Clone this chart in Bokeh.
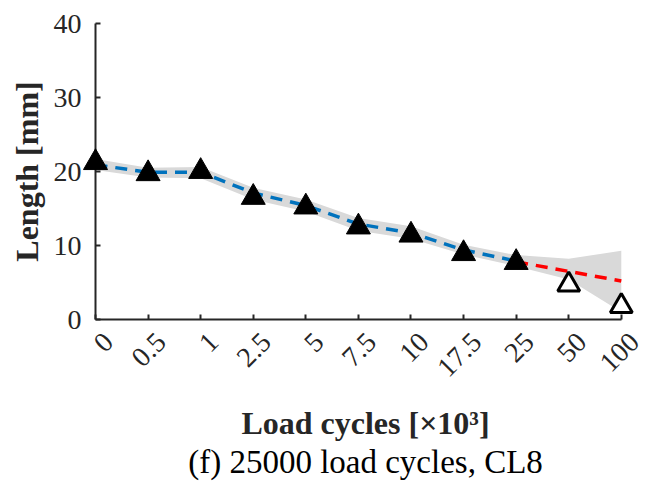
import math
from bokeh.plotting import figure
from bokeh.models import Range1d, FixedTicker, LinearAxis, CustomJSTickFormatter
from bokeh.embed import file_html
from bokeh.resources import INLINE

# ---- data ----
cycles = ["0", "0.5", "1", "2.5", "5", "7.5", "10", "17.5", "25", "50", "100"]
tested_len = [21.2, 19.7, 20.0, 16.5, 15.2, 12.5, 11.4, 8.9, 7.7]      # filled triangles
extrap_len = [4.7, 1.8]                                                  # open triangles (50, 100)
mean_fit = [20.9, 19.9, 19.9, 17.1, 15.4, 12.9, 11.7, 9.4, 7.9]         # blue dashed
pred_fit = [7.8, 6.5, 5.2]                                               # red dashed (25, 50, 100)
band_upper = [21.7, 20.5, 20.6, 17.8, 16.2, 13.7, 12.6, 10.1, 8.7, 8.2, 9.3]
band_lower = [20.2, 19.2, 19.1, 16.2, 14.6, 12.0, 10.9, 8.8, 7.2, 5.4, 1.0]
y_ticks = [0, 10, 20, 30, 40]

xs = list(range(len(cycles)))
n_test = len(tested_len)
x_last = len(cycles) - 1

FONT = "Liberation Serif"
AX = "#262626"
LABEL_SHIFT = 0.25   # rotated tick labels sit a little right of their ticks (MATLAB style)
X_PAD = 0.27         # room on the right for the shifted last label

p = figure(width=652, height=487, output_backend="svg", toolbar_location=None,
           x_range=Range1d(0, x_last + X_PAD), y_range=Range1d(0, 40),
           min_border_left=95, min_border_right=17, min_border_top=23, min_border_bottom=168)
p.outline_line_color = None
p.grid.visible = False
p.background_fill_color = "white"
p.border_fill_color = "white"

p.varea(x=xs, y1=band_lower, y2=band_upper, fill_color="#d9d9d9")
p.line(xs[:n_test], mean_fit, line_color="#0072BD", line_width=3.5, line_dash="12 8")
p.line(xs[n_test - 1:], pred_fit, line_color="#FF0000", line_width=3.5, line_dash="12 8")
r1 = p.scatter(xs[:n_test], tested_len, marker="triangle", size=24,
               fill_color="black", line_color="black", line_width=1)
r2 = p.scatter(xs[n_test:], extrap_len, marker="triangle", size=22,
               fill_color="white", line_color="black", line_width=3)
# draw markers above the axes so the ones on the frame edge are not cut off
r1.level = "overlay"
r2.level = "overlay"

def style_axis(ax):
    ax.axis_line_color = AX
    ax.axis_line_width = 2
    ax.major_tick_line_color = AX
    ax.major_tick_line_width = 2
    ax.major_tick_in = 5
    ax.major_tick_out = 0
    ax.minor_tick_line_color = None
    ax.major_label_text_font = FONT
    ax.major_label_text_font_size = "28px"
    ax.major_label_text_color = AX
    ax.axis_label_text_font = FONT
    ax.axis_label_text_font_size = "32px"
    ax.axis_label_text_font_style = "bold"
    ax.axis_label_text_color = AX

def bare_axis(ax):
    style_axis(ax)
    ax.axis_line_color = None
    ax.major_tick_line_color = None

# x axis: line and ticks only (spanning the categories)
xa = p.xaxis[0]
style_axis(xa)
xa.bounds = (0, x_last)
xa.ticker = FixedTicker(ticks=xs)
xa.major_label_text_color = None
xa.major_label_text_font_size = "1px"
xa.major_label_standoff = 0

# x tick labels on a second, line-less axis
xl = LinearAxis()
bare_axis(xl)
xl.ticker = FixedTicker(ticks=[x + LABEL_SHIFT for x in xs])
xl.formatter = CustomJSTickFormatter(args=dict(labels=cycles, shift=LABEL_SHIFT),
                                     code="return labels[Math.round(tick - shift)]")
xl.major_label_orientation = math.pi / 4
xl.major_label_standoff = 18
p.add_layout(xl, "below")

# x axis title
xt = LinearAxis(bounds=(0, x_last))
bare_axis(xt)
xt.ticker = FixedTicker(ticks=[])
xt.major_label_standoff = 0
xt.axis_label = "Load cycles [×10³]"
xt.axis_label_standoff = 17
p.add_layout(xt, "below")

# panel caption
xc = LinearAxis(bounds=(0, x_last))
bare_axis(xc)
xc.ticker = FixedTicker(ticks=[])
xc.major_label_standoff = 0
xc.axis_label = "(f) 25000 load cycles, CL8"
xc.axis_label_text_font_style = "normal"
xc.axis_label_text_font_size = "33px"
xc.axis_label_text_color = "black"
xc.axis_label_standoff = 0
p.add_layout(xc, "below")

ya = p.yaxis[0]
style_axis(ya)
ya.ticker = FixedTicker(ticks=y_ticks)
ya.axis_label = "Length [mm]"
ya.major_label_standoff = 14
ya.axis_label_standoff = 6

open("out.html", "w").write(file_html(p, INLINE))
